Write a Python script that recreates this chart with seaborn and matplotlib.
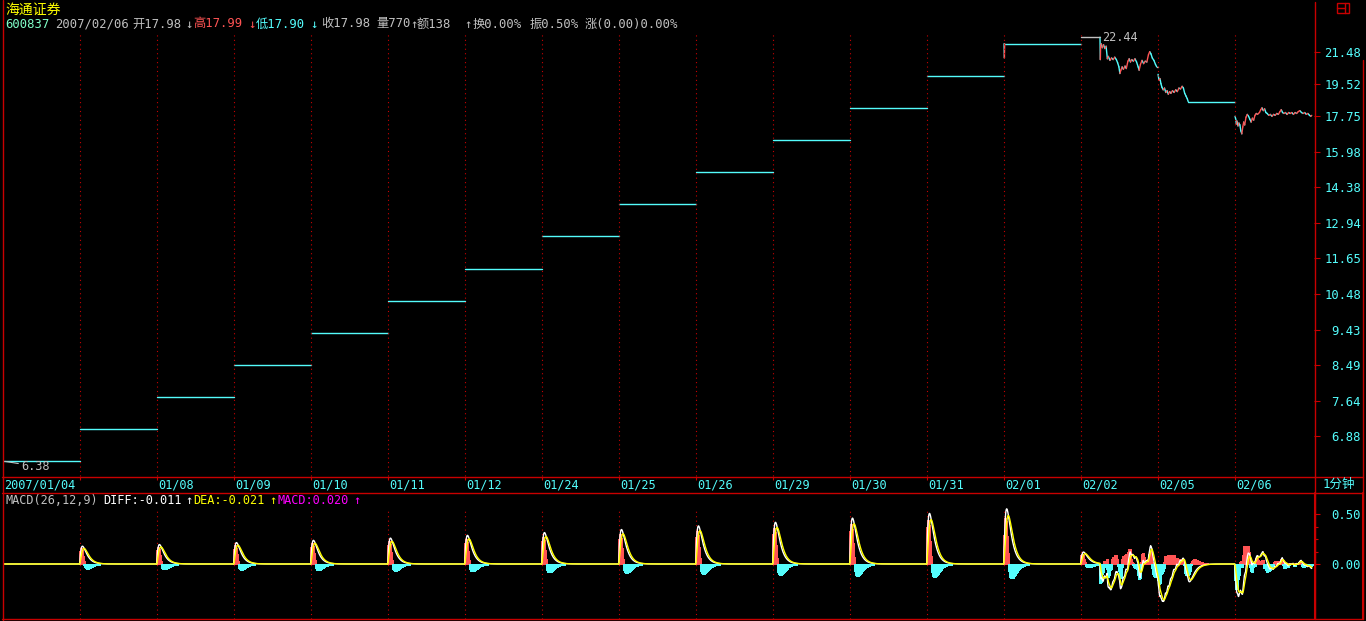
import numpy as np
import pandas as pd
import matplotlib
matplotlib.use("Agg")
import matplotlib.pyplot as plt
import matplotlib.ticker as mticker
from matplotlib.lines import Line2D
from matplotlib.patches import Rectangle
import seaborn as sns

# ---- 数据 ----
stock_name = "海通证券"
trade_days = ["01/04", "01/05", "01/08", "01/09", "01/10", "01/11", "01/12",
              "01/24", "01/25", "01/26", "01/29", "01/30", "01/31",
              "02/01", "02/02", "02/05", "02/06"]
date_labels = ["2007/01/04", "", "01/08", "01/09", "01/10", "01/11", "01/12",
               "01/24", "01/25", "01/26", "01/29", "01/30", "01/31",
               "02/01", "02/02", "02/05", "02/06"]

# 一字涨停的日子, 全天一个价
limit_prices = [6.38, 7.02, 7.72, 8.49, 9.34, 10.27, 11.30, 12.43, 13.67,
                15.04, 16.54, 18.19, 20.01]

# 有成交波动的日子: 分钟序号(0-239) 和 价格
min_0201 = [0, 1, 2]
px_0201 = [22.01, 21.10, 22.01]

min_0202 = [0, 59, 60, 61, 63, 66, 70, 74, 78, 82, 85, 90, 95, 100, 105, 110,
            114, 118, 121, 124, 128, 132, 137, 141, 146, 150, 154, 158, 163,
            168, 173, 178, 181, 185, 190, 195, 200, 205, 210, 214, 218, 222,
            227, 232, 236]
px_0202 = [22.44, 22.44, 21.00, 21.85, 22.00, 21.75, 21.95, 21.70, 21.85,
           21.05, 21.20, 20.95, 21.10, 21.00, 21.15, 21.00, 20.80, 20.55,
           20.15, 20.35, 20.55, 20.40, 20.60, 20.45, 20.90, 21.05, 20.85,
           21.00, 20.90, 21.05, 20.85, 20.55, 20.35, 20.70, 20.95, 20.75,
           20.90, 20.85, 21.30, 21.50, 21.35, 21.10, 20.95, 20.70, 20.55]

min_0205 = [0, 3, 6, 9, 12, 16, 20, 24, 28, 32, 36, 40, 45, 50, 55, 60, 65,
            70, 75, 79, 83, 87, 91, 94]
px_0205 = [20.10, 19.75, 19.85, 19.55, 19.35, 19.20, 19.30, 19.05, 19.15,
           18.95, 19.10, 19.00, 19.15, 19.05, 19.20, 19.10, 19.30, 19.25,
           19.40, 19.30, 19.00, 18.85, 18.70, 18.54]

min_0206 = [0, 2, 4, 6, 9, 12, 15, 18, 21, 24, 27, 30, 34, 38, 42, 46, 50, 54,
            58, 62, 66, 70, 76, 80, 84, 88, 92, 96, 100, 105, 110, 115, 120,
            125, 130, 135, 140, 144, 148, 152, 157, 162, 167, 172, 177, 182,
            187, 192, 197, 202, 207, 212, 217, 222, 227, 232, 236, 239]
px_0206 = [17.75, 17.60, 17.35, 17.50, 17.25, 17.40, 17.30, 17.00, 16.85,
           17.20, 17.45, 17.30, 17.70, 17.85, 17.75, 17.60, 17.45, 17.65,
           17.55, 17.80, 17.90, 17.85, 17.95, 18.10, 18.20, 18.05, 18.15,
           17.95, 17.90, 17.80, 17.85, 17.75, 17.85, 17.80, 17.90, 17.85,
           18.00, 18.10, 17.95, 17.90, 17.95, 17.85, 17.95, 17.90, 17.95,
           17.85, 17.95, 17.90, 18.00, 18.05, 17.95, 17.90, 17.95, 17.85,
           17.90, 17.80, 17.75, 17.80]

price_ticks = [21.48, 19.52, 17.75, 15.98, 14.38, 12.94, 11.65, 10.48, 9.43,
               8.49, 7.64, 6.88]
price_tick_labels = ["21.48", "19.52", "17.75", "15.98", "14.38", "12.94",
                     "11.65", "10.48", "9.43", "8.49", "7.64", "6.88"]
macd_ticks = [0.0, 0.5]
macd_tick_labels = ["0.00", "0.50"]
macd_minor = [0.125, 0.25, 0.375]

header_texts = ["600837", "2007/02/06", "开17.98", "↓", "高17.99", "↓", "低17.90", "↓",
                "收17.98", "量770", "↑", "额138", "↑", "换0.00%", "振0.50%", "涨(0.00)0.00%"]
macd_texts = ["MACD(26,12,9)", "DIFF:-0.011", "↑", "DEA:-0.021", "↑", "MACD:0.020", "↑"]

# ---- 颜色 ----
RED = "#c80000"
UP = "#ff5454"
CYAN = "#54fcfc"
GREY = "#c0c0c0"
YELLOW = "#ffff00"
MAGENTA = "#ff00ff"

sns.set_theme(style="ticks", rc={"figure.facecolor": "black", "axes.facecolor": "black",
                                 "savefig.facecolor": "black"})
plt.rcParams["font.family"] = ["DejaVu Sans Mono", "Noto Sans CJK SC"]

W, H = 1366, 621
fig = plt.figure(figsize=(W / 100, H / 100), dpi=100)


def box(x0, y0, x1, y1):
    return [x0 / W, 1 - y1 / H, (x1 - x0) / W, (y1 - y0) / H]


ax = fig.add_axes(box(3, 32, 1314, 476))
ax2 = fig.add_axes(box(3, 493, 1314, 619))

# 每天240分钟
N = 240
sessions = [([0], [p]) for p in limit_prices]
sessions += [(min_0201, px_0201), (min_0202, px_0202), (min_0205, px_0205), (min_0206, px_0206)]

close = []
for mins, pxs in sessions:
    day = np.empty(N)
    edges = list(mins) + [N]
    for k, p in enumerate(pxs):
        day[edges[k]:edges[k + 1]] = p
    close.append(day)
close = np.concatenate(close)
t = np.arange(len(close))

# MACD(26,12,9)
s = pd.Series(close)
diff = s.ewm(span=12, adjust=False).mean() - s.ewm(span=26, adjust=False).mean()
dea = diff.ewm(span=9, adjust=False).mean()
macd = 2 * (diff - dea)

# 价格线分段, 涨红跌青
rows = []
seg = 0
for d, (mins, pxs) in enumerate(sessions):
    xs = [d * N + m for m in mins] + [d * N + N]
    ys = list(pxs) + [pxs[-1]]
    for k in range(len(xs) - 1):
        dy = ys[k + 1] - ys[k]
        if dy > 0:
            kind = "up"
        elif dy < 0:
            kind = "down"
        else:
            kind = "flat_g" if trade_days[d] == "02/02" else "flat"
        rows.append((seg, xs[k], ys[k], kind))
        rows.append((seg, xs[k + 1], ys[k + 1], kind))
        seg += 1
seg_df = pd.DataFrame(rows, columns=["seg", "x", "y", "kind"])
pal = {"up": UP, "down": CYAN, "flat": CYAN, "flat_g": GREY}

sns.lineplot(data=seg_df, x="x", y="y", hue="kind", units="seg", estimator=None,
             palette=pal, legend=False, sort=False, lw=1.0, ax=ax)

ax.set_yscale("log")
ax.set_ylim(6.11, 22.79)
ax.set_xlim(0, 4086)

for d in range(1, len(sessions)):
    ax.axvline(d * N, color=RED, lw=0.8, ls=(0, (1, 3)))
    ax2.axvline(d * N, ymax=0.88, color=RED, lw=0.8, ls=(0, (1, 3)))

# 最高最低标注
ax.annotate("6.38", xy=(6, 6.38), xytext=(12, -3.5), textcoords="offset points",
            color=GREY, fontsize=8.6, ha="left", va="center",
            arrowprops=dict(arrowstyle="-", color=GREY, lw=0.8, shrinkA=0, shrinkB=0))
ax.annotate("22.44", xy=(14 * N + 60, 22.44), xytext=(1, 0), textcoords="offset points",
            color=GREY, fontsize=8.6, ha="left", va="center")

# 价格轴 (右边)
ax.yaxis.set_ticks_position("right")
ax.set_yticks(price_ticks, labels=price_tick_labels)
ax.yaxis.set_minor_locator(mticker.NullLocator())
ax.tick_params(axis="y", which="major", direction="out", length=4.3, width=0.8,
               color=RED, labelcolor=CYAN, pad=29.5, labelsize=8.8, right=True, left=False)
for lb in ax.get_yticklabels():
    lb.set_ha("right")
ax.set_xticks([d * N for d in range(len(sessions))])
ax.set_xticklabels([])
ax.tick_params(axis="x", direction="out", length=2.9, width=0.8, color=RED)
ax.set_xlabel("")
ax.set_ylabel("")
for sp in ax.spines.values():
    sp.set_visible(False)

for d, lab in enumerate(date_labels):
    ax.text(d * N + 5, -8.5 / 444, lab, transform=ax.get_xaxis_transform(),
            color=CYAN, fontsize=8.6, ha="left", va="center")

# MACD 副图, 每分钟一根柱
bar = macd.values
up_mask = bar > 0
dn_mask = bar < 0
ax2.vlines(t[up_mask], 0, bar[up_mask], color=UP, lw=0.75, antialiased=False)
ax2.vlines(t[dn_mask], 0, bar[dn_mask], color=CYAN, lw=0.75, antialiased=False)
sns.lineplot(x=t, y=diff.values, color="white", lw=1.0, ax=ax2)
sns.lineplot(x=t, y=dea.values, color=YELLOW, lw=1.0, ax=ax2)
ax2.set_xlim(0, 4086)
ax2.set_ylim(-0.55, 0.71)
ax2.yaxis.set_ticks_position("right")
ax2.set_yticks(macd_ticks, labels=macd_tick_labels)
ax2.set_yticks(macd_minor, minor=True)
ax2.tick_params(axis="y", which="major", direction="out", length=4.3, width=0.8,
                color=RED, labelcolor=CYAN, pad=29.5, labelsize=8.8, right=True, left=False)
ax2.tick_params(axis="y", which="minor", direction="out", length=2.9, width=0.8,
                color=RED, right=True, left=False)
for lb in ax2.get_yticklabels():
    lb.set_ha("right")
ax2.set_xticks([])
ax2.set_xlabel("")
ax2.set_ylabel("")
for sp in ax2.spines.values():
    sp.set_visible(False)

# 标题行文字
fig.text(5 / W, 1 - 10 / H, stock_name, color=YELLOW, fontsize=10,
         ha="left", va="center", family=["Noto Sans CJK SC", "DejaVu Sans"])
head_x = [5, 55, 132, 185, 193, 248, 256, 310, 321, 376, 410, 417, 464, 473, 530, 585]
head_c = ["#80ffc8", GREY, GREY, GREY, UP, UP, CYAN, CYAN, GREY, GREY, GREY, GREY,
          GREY, GREY, GREY, GREY]
for txt, x, c in zip(header_texts, head_x, head_c):
    fig.text(x / W, 1 - 24 / H, txt, color=c, fontsize=8.8, ha="left", va="center")

macd_x = [5, 103, 185, 193, 269, 278, 353]
macd_c = [GREY, "white", "white", YELLOW, YELLOW, MAGENTA, MAGENTA]
for txt, x, c in zip(macd_texts, macd_x, macd_c):
    fig.text(x / W, 1 - 500 / H, txt, color=c, fontsize=8.6, ha="left", va="center")

fig.text(1339 / W, 1 - 484 / H, "1分钟", color=CYAN, fontsize=9, ha="center", va="center")


# 边框
def hl(y, x0, x1, lw=1.0, c=RED):
    fig.add_artist(Line2D([x0 / W, x1 / W], [1 - y / H, 1 - y / H], color=c, lw=lw))


def vl(x, y0, y1, lw=1.0, c=RED):
    fig.add_artist(Line2D([x / W, x / W], [1 - y0 / H, 1 - y1 / H], color=c, lw=lw))


vl(2.5, 0, 621)
vl(1314.5, 2, 619)
vl(1362.5, 60, 619)
hl(476.5, 2, 1363)
hl(492.5, 2, 1363)
hl(618.5, 2, 1363)
vl(1314.5, 493, 619, lw=1.5)
vl(1362.5, 493, 619, lw=1.5)

# 右上角小图标
fig.add_artist(Rectangle((1336.5 / W, 1 - 12.5 / H), 12 / W, 10 / H, fill=False,
                         edgecolor=RED, lw=1.0, transform=fig.transFigure))
vl(1344.5, 2.5, 12.5)
hl(7.5, 1336.5, 1344.5)

fig.savefig("out.png", dpi=100, facecolor="black")
